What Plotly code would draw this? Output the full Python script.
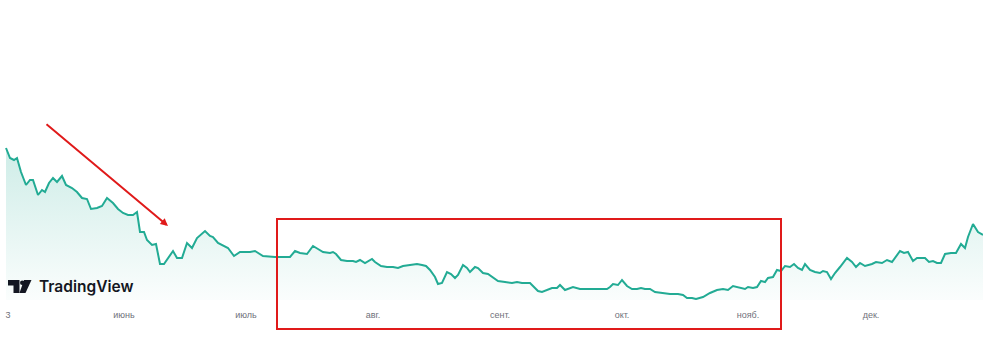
import plotly.graph_objects as go

# Session position (horizontal) and price level
t = [6,10,14,17,21,26,30,33,38,42,45,49,53,57,62,66,72,77,82,87,91,97,102,107,113,118,123,128,133,137,
     140,144,147,152,156,160,164,169,173,177,182,187,192,197,205,210,213,218,228,234,240,250,255,263,270,
     275,282,290,295,300,307,313,318,323,330,333,336,341,347,353,356,360,365,372,375,381,387,393,398,403,
     410,417,422,426,430,435,438,442,447,451,455,458,463,467,470,475,478,483,488,492,498,505,512,517,522,
     530,533,538,542,547,552,557,560,565,570,573,580,585,590,598,603,607,610,613,618,622,627,632,637,641,
     645,650,655,662,670,678,683,687,692,696,703,710,717,723,728,733,737,740,745,748,753,757,761,765,768,
     773,777,781,785,790,794,798,802,805,810,815,820,823,827,831,835,840,847,852,856,860,865,872,876,882,
     887,892,897,900,904,908,913,917,925,929,933,937,941,945,951,956,961,965,968,973,978,983]
price = [152,142,140,142,128,115,120,120,105,110,108,117,122,118,124,115,112,108,102,101,91,92,94,102,97,
         91,87,85,85,88,68,68,60,55,56,36,36,44,49,42,42,57,52,62,69,64,63,57,52,44,48,48,49,44,43,
         43,43,43,49,47,46,54,51,48,47,48,46,40,39,39,38,40,37,41,38,34,33,33,32,34,
         35,36,35,34,30,23,16,17,28,26,22,25,35,32,28,33,32,27,26,23,19,18,17,18,17,
         17,14,9,8,10,12,12,15,10,12,13,11,11,11,11,11,11,13,16,15,20,14,11,11,12,
         11,11,8,7,6,6,5,2,2,1,3,7,10,11,10,14,13,13,11,13,12,13,19,18,22,
         23,30,29,34,33,36,32,30,36,30,28,27,29,28,21,27,33,42,38,33,37,34,36,38,37,
         40,38,45,49,47,48,39,42,42,38,39,37,37,46,47,47,56,52,63,76,68,65]

month_pos = [8, 124, 246, 373, 500, 622, 748, 871]
month_txt = ["3", "июнь", "июль", "авг.", "сент.", "окт.", "нояб.", "дек."]

W, H = 983, 343
PLOT_H = 300  # px height of the plotting area (bottom margin holds the labels)

fig = go.Figure()
fig.add_trace(go.Scatter(
    x=t, y=price, mode="lines",
    line=dict(color="#22ab94", width=2),
    fill="tozeroy",
    fillgradient=dict(type="vertical",
                      colorscale=[[0, "rgba(34,171,148,0.02)"], [1, "rgba(34,171,148,0.22)"]],
                      start=0, stop=152),
    hoverinfo="skip", showlegend=False,
))

def px_x(v):
    return v / W

def px_y(v):
    return (PLOT_H - v) / PLOT_H

# Red arrow annotation
arrow_from = (45, 123)
arrow_to = (168, 226)
fig.add_annotation(
    xref="paper", yref="paper", axref="pixel", ayref="pixel",
    x=px_x(arrow_to[0]), y=px_y(arrow_to[1]),
    ax=arrow_from[0] - arrow_to[0], ay=arrow_from[1] - arrow_to[1],
    text="", showarrow=True, arrowhead=2, arrowsize=0.75, arrowwidth=2,
    arrowcolor="#e01a1a",
)

# Red highlight rectangle
rect = (277, 219, 781, 329)
fig.add_shape(type="rect", xref="paper", yref="paper",
              x0=px_x(rect[0]), x1=px_x(rect[2]), y0=px_y(rect[3]), y1=px_y(rect[1]),
              line=dict(color="#e01a1a", width=2), fillcolor="rgba(0,0,0,0)", layer="above")

# TradingView logo (approximate glyph) + wordmark
def P(x, y):
    return f"{px_x(x):.5f} {px_y(y):.5f}"
t_path = ("M " + P(8, 280) + " L " + P(19.5, 280) + " L " + P(19.5, 293) + " L " + P(13.5, 293)
          + " L " + P(13.5, 285.5) + " L " + P(8, 285.5) + " Z")
v_path = ("M " + P(24, 280) + " L " + P(31.5, 280) + " L " + P(25.5, 293) + " L " + P(19.5, 293) + " Z")
for p in (t_path, v_path):
    fig.add_shape(type="path", xref="paper", yref="paper", path=p,
                  fillcolor="#131722", line=dict(width=0), layer="above")
fig.add_shape(type="circle", xref="paper", yref="paper",
              x0=px_x(20), x1=px_x(24.5), y0=px_y(285), y1=px_y(280.5),
              fillcolor="#131722", line=dict(width=0), layer="above")
fig.add_annotation(xref="paper", yref="paper", x=px_x(36.5), y=px_y(286.5),
                   xanchor="left", yanchor="middle", showarrow=False,
                   text="TradingView",
                   font=dict(family="Inter, Roboto, sans-serif", size=15.5, color="#131722", weight=600))

fig.update_layout(
    width=W, height=H,
    margin=dict(l=0, r=0, t=0, b=H - PLOT_H),
    paper_bgcolor="white", plot_bgcolor="white",
    xaxis=dict(range=[0, W], showgrid=False, zeroline=False, showline=False,
               tickmode="array", tickvals=month_pos, ticktext=month_txt,
               ticks="outside", ticklen=6, tickcolor="rgba(0,0,0,0)",
               tickfont=dict(family="Arial, Liberation Sans, sans-serif", size=9, color="#6f717a"),
               fixedrange=True),
    yaxis=dict(range=[0, PLOT_H], visible=False, fixedrange=True),
)

fig.write_html("out.html")
